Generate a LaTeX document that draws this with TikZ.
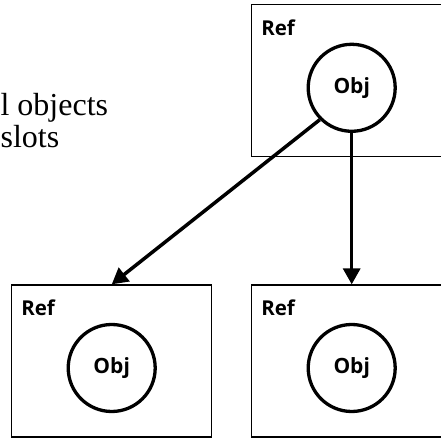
\documentclass[tikz,border=0pt]{standalone}
\usepackage{fontspec}
\usepackage{tikz}
\usetikzlibrary{arrows.meta, positioning}

\newfontfamily\boxfont{Open Sans}
\newfontfamily\sidefont{Liberation Serif}

\begin{document}
\begin{tikzpicture}[
      x=20pt, y=20pt,
      refbox/.style={
         rectangle,
         draw=black,
         line width=1.3pt,
         inner sep=0pt,
         minimum width=200pt,
         minimum height=152pt},
      objcircle/.style={
         circle,
         draw=black,
         fill=white,
         line width=3.3pt,
         inner sep=0pt,
         minimum size=87pt,
         font=\boxfont\bfseries\fontsize{21}{24}\selectfont},
      reflabel/.style={
         anchor=base west,
         inner sep=0pt,
         font=\boxfont\bfseries\fontsize{20.5}{24}\selectfont},
      sidetext/.style={
         anchor=base west,
         inner sep=0pt,
         font=\sidefont\fontsize{32}{36}\selectfont},
      myarrow/.style={-{Triangle[length=16pt,width=17pt]}, line width=3.5pt}
      ]
      \clip (0,0) rectangle (22.05,21.9);

      % the three ref boxes, each holding one object
      \node[refbox] at (17.585, 17.86) (rtop) {};
      \node[refbox] at (5.585, 3.85) (rleft) {};
      \node[refbox] at (17.585, 3.85) (rright) {};

    \foreach \b/\o in {rtop/otop, rleft/oleft, rright/oright}{
      \node[reflabel] at ([shift={(0.5,-1.55)}]\b.north west) (\b-lbl) {Ref};
      \node[objcircle] at ([yshift=-7pt]\b.center) (\o) {Obj};
    }

      % text running in from the left
      \node[sidetext] at (0.02, 16.1) (line1) {l objects};
      \node[sidetext] at (0.02, 14.5) (line2) {slots};

      \draw [myarrow] (otop.south west) -- (rleft.north);
      \draw [myarrow] (otop.south) -- (rright.north);

    \end{tikzpicture}
\end{document}
